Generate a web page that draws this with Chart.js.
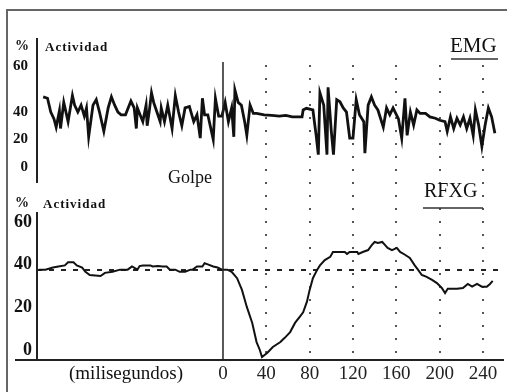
<!DOCTYPE html>
<html>
<head>
<meta charset="utf-8">
<script src="https://cdn.jsdelivr.net/npm/chart.js@4.4.0/dist/chart.umd.min.js"></script>
<style>
  html, body { margin: 0; padding: 0; background: #fff; }
  #wrap { position: relative; width: 507px; height: 392px; }
</style>
</head>
<body>
<div id="wrap"><canvas id="chart"></canvas></div>
<script>
// EMG trace (top panel), time in ms relative to the hit, activity in %
const emgTime = [
  -166, -162, -159, -156, -154, -151, -150, -147, -143, -139, -137, -134, -131, -128, -126, -124, -120, -117,
  -114, -110, -106, -103, -100, -97, -94, -90, -85, -82, -80, -79, -74, -71, -70, -68, -66,
  -64, -61, -58, -57, -54, -51, -47, -44, -41, -38, -35, -31, -27, -24, -21, -19, -17, -14, -9, -7,
  -4, -1, 2, 5, 8, 10, 11, 14, 17, 20, 22, 25, 28, 31,
  38, 45, 52, 58, 64, 70, 73, 74, 77, 83, 86, 88, 89.5, 93, 96, 97, 100, 102, 105, 108,
  111, 114, 117, 120, 123, 126, 130, 131, 134, 137, 140, 143, 148,
  151, 154, 157, 162, 165, 168, 170, 173, 176, 179, 182, 187, 191, 196, 200, 205, 207, 210, 213, 216,
  219, 222, 225, 228, 231, 233, 236, 239, 242, 245, 248, 251
];
const emgValue = [
  51, 50, 40, 35, 29, 41, 28, 47, 33, 52, 45, 40, 45, 37, 43, 22, 45, 49,
  40, 26, 43, 51, 45, 40, 38, 38, 48, 43, 28, 43, 33, 45, 30, 41, 54,
  47, 40, 33, 43, 33, 45, 28, 52, 40, 30, 43, 44, 33, 38, 21, 50, 38, 38, 20, 50,
  37, 37, 47, 33, 43, 22, 56, 47, 45, 33, 23, 45, 39, 39,
  38, 37.5, 37, 37.5, 36.5, 36.5, 36.5, 41.5, 42.7, 41.5, 23, 9, 54, 45, 9, 58, 26, 9, 49, 47.5,
  43, 40, 21, 21, 49, 38, 33, 10, 45, 51, 45, 41.5, 29,
  43, 38, 43, 35, 21, 50, 23, 40, 30.5, 41.5, 39, 39, 36.5, 35.5, 34, 33, 26, 36.5, 28, 35.5,
  30.5, 36.5, 28, 35.5, 23, 41.5, 30.5, 15, 30.5, 43, 36.5, 24.5
];

// RFXG trace (bottom panel)
const rfxgTime = [
  -170, -164, -157, -152, -146, -143, -138, -135, -130, -127, -123, -113, -109, -102, -95, -88, -84, -79, -77, -74,
  -67, -65, -60, -56, -52, -49, -44, -40, -35, -30, -28, -24, -19, -17, -14, -9, -5, -1, 4, 8,
  13, 17.5, 22, 27, 31, 34, 36, 41, 46, 53, 57, 62, 66.5, 71, 74, 77.5, 80, 83, 87, 89.5,
  94, 99, 101.5, 112.5, 114.5, 117, 124, 125, 129, 134, 137.5, 140, 143, 147, 149.5, 152, 156, 160.5, 163.5, 168,
  172.5, 177, 180, 183.5, 188, 193, 197.5, 202, 205, 207.5, 216, 221.5, 226, 230, 234.5, 239, 243.5, 246.5, 249
];
const rfxgValue = [
  41, 41, 42, 42.5, 43, 44.5, 44.5, 43, 42, 40, 38.5, 38, 39.5, 40, 41, 41, 42.5, 41, 42.7, 43,
  43, 42.5, 42.7, 42.5, 42.5, 41, 41, 40, 40, 41, 41, 42.5, 42.5, 44, 43.5, 42.5, 42, 41, 41, 40,
  37, 31.5, 23.5, 16, 7, 3.3, 0, 2, 4.7, 7, 9, 11.7, 16, 19, 21, 26, 31.5, 37, 41, 43,
  45.5, 47, 49.3, 49.3, 48.4, 49.3, 49.3, 48.4, 49.3, 50.2, 52.6, 54, 53.5, 54, 52.6, 51.2, 50.2, 51.2, 49.3, 48,
  46.5, 43, 41, 38.5, 37.6, 36.2, 34.7, 32.4, 30, 32, 32, 32.4, 34.3, 33, 34.3, 33, 33, 34.3, 35.7
];

const restLevel = 40.8;               // dashed reference line, bottom panel
const xTicks = [0, 40, 80, 120, 160, 200, 240];
const yTicks = [0, 20, 40, 60];
const xMin = -171.7, xMax = 258.5;

const pairs = (ts, vs) => ts.map((t, i) => ({ x: t, y: vs[i] }));

// frame, axis stubs, hit line and free texts
const overlay = {
  id: 'overlay',
  afterDraw(chart) {
    const { ctx, chartArea, scales } = chart;
    ctx.save();
    ctx.strokeStyle = '#666';
    ctx.lineWidth = 2;
    ctx.beginPath();
    ctx.moveTo(7, 392); ctx.lineTo(7, 10); ctx.lineTo(507, 10);
    ctx.stroke();

    ctx.strokeStyle = '#222';
    ctx.beginPath();
    ctx.moveTo(15, chartArea.bottom); ctx.lineTo(chartArea.left, chartArea.bottom);
    // top axis line rises above the plot to carry its label
    ctx.moveTo(chartArea.left, 38); ctx.lineTo(chartArea.left, chartArea.top);
    ctx.stroke();

    // Golpe line at t = 0
    const x0 = scales.x.getPixelForValue(0);
    ctx.lineWidth = 1.5;
    ctx.beginPath();
    ctx.moveTo(x0, chartArea.top);
    ctx.lineTo(x0, chartArea.bottom);
    ctx.stroke();

    ctx.fillStyle = '#111';
    ctx.textBaseline = 'middle';
    ctx.font = 'bold 14px "Liberation Serif"';
    ctx.fillText('%', 15, 46);
    ctx.fillText('%', 15, 203);
    ctx.font = 'bold 13px "Liberation Serif"';
    ctx.letterSpacing = '1px';
    ctx.fillText('Actividad', 45, 48);
    ctx.fillText('Actividad', 43, 205);
    ctx.letterSpacing = '0px';

    ctx.font = '18px "Liberation Serif"';
    ctx.fillText('Golpe', 168, 178);
    ctx.font = '19px "Liberation Serif"';
    ctx.textAlign = 'center';
    ctx.fillText('(milisegundos)', 126, 374);
    ctx.textAlign = 'left';

    ctx.font = '21px "Liberation Serif"';
    ctx.fillText('EMG', 450, 46);
    ctx.font = '20px "Liberation Serif"';
    ctx.fillText('RFXG', 424, 192);
    ctx.lineWidth = 1.5;
    ctx.strokeStyle = '#333';
    ctx.beginPath();
    ctx.moveTo(451, 59); ctx.lineTo(498, 59);
    ctx.moveTo(423, 208); ctx.lineTo(483, 208);
    ctx.stroke();
    ctx.restore();
  }
};

document.addEventListener('DOMContentLoaded', () => {
  const ctx = document.getElementById('chart').getContext('2d');

  new Chart(ctx, {
    type: 'line',
    data: {
      datasets: [
        {
          label: 'EMG',
          data: pairs(emgTime, emgValue),
          yAxisID: 'yTop',
          borderColor: '#111',
          borderWidth: 2.8,
          pointRadius: 0,
          tension: 0
        },
        {
          label: 'RFXG',
          data: pairs(rfxgTime, rfxgValue),
          yAxisID: 'yBot',
          borderColor: '#111',
          borderWidth: 2,
          pointRadius: 0,
          tension: 0
        },
        {
          label: 'reposo',
          data: [{ x: xMin, y: restLevel }, { x: xMax, y: restLevel }],
          yAxisID: 'yBot',
          borderColor: '#222',
          borderWidth: 2,
          borderDash: [5, 7],
          pointRadius: 0
        }
      ]
    },
    options: {
      responsive: true,
      maintainAspectRatio: false,
      animation: false,
      layout: { padding: { top: 62, right: 4, left: 0, bottom: 0 } },
      plugins: { legend: { display: false }, tooltip: { enabled: false } },
      scales: {
        x: {
          type: 'linear',
          min: xMin,
          max: xMax,
          afterFit: (s) => { s.height = 32; },
          afterBuildTicks: (s) => { s.ticks = xTicks.map(v => ({ value: v })); },
          ticks: { color: '#222', padding: 3, autoSkip: false, font: { family: 'Liberation Serif', size: 19 } },
          grid: {
            drawTicks: false,
            lineWidth: 2,
            color: (c) => (c.tick && c.tick.value === 0 ? 'rgba(0,0,0,0)' : '#555')
          },
          border: { display: true, color: '#222', width: 2, dash: [2, 11], dashOffset: -3 }
        },
        // stacked panels: listed bottom first, the layout puts the last one on top
        yBot: {
          type: 'linear',
          position: 'left',
          stack: 'panels',
          stackWeight: 147,
          min: -1.41,
          max: 67.6,
          afterFit: (s) => { s.width = 37; },
          afterBuildTicks: (s) => { s.ticks = yTicks.map(v => ({ value: v })); },
          ticks: { color: '#111', padding: 5, labelOffset: -7, autoSkip: false, font: { family: 'Liberation Serif', size: 18, weight: 'bold' } },
          grid: { display: false, drawTicks: false },
          border: { display: true, color: '#222', width: 2 }
        },
        yGap: {
          type: 'linear',
          position: 'left',
          stack: 'panels',
          stackWeight: 31,
          afterFit: (s) => { s.width = 37; },
          ticks: { display: false },
          grid: { display: false, drawTicks: false },
          border: { display: false }
        },
        yTop: {
          type: 'linear',
          position: 'left',
          stack: 'panels',
          stackWeight: 120,
          min: -10.9,
          max: 76.4,
          afterFit: (s) => { s.width = 37; },
          afterBuildTicks: (s) => { s.ticks = yTicks.map(v => ({ value: v })); },
          ticks: {
            color: '#111',
            padding: 9,
            autoSkip: false,
            font: { family: 'Liberation Serif', size: 15, weight: 'bold' },
            // the top label sits higher up the axis in the original figure
            callback: (v) => (v === 60 ? ['60', '', ''] : String(v))
          },
          grid: { display: false, drawTicks: false },
          border: { display: true, color: '#222', width: 2 }
        }
      }
    },
    plugins: [overlay]
  });
});
</script>
</body>
</html>
